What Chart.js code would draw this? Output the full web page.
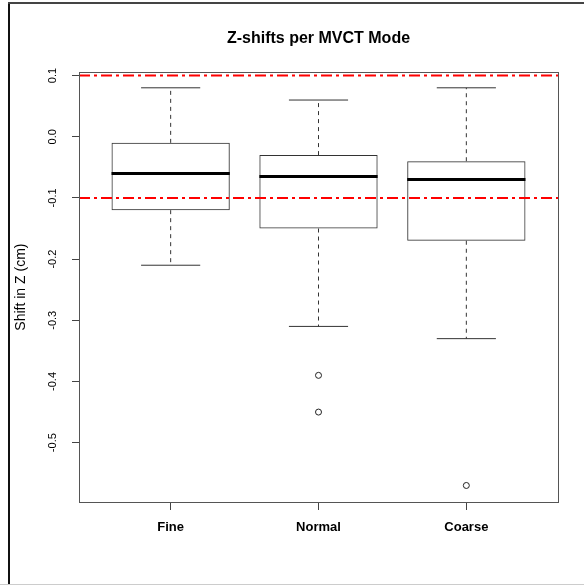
<!DOCTYPE html>
<html>
<head>
<meta charset="utf-8">
<title>Z-shifts per MVCT Mode</title>
<script src="https://cdn.jsdelivr.net/npm/chart.js@4/dist/chart.umd.min.js"></script>
<style>
  html, body { margin: 0; padding: 0; background: #fff; }
  #wrap { width: 584px; height: 585px; }
</style>
</head>
<body>
<div id="wrap"><canvas id="boxChart" width="584" height="585"></canvas></div>
<script>
// five-number summaries per MVCT mode (cm)
const modes = ['Fine', 'Normal', 'Coarse'];
const whiskerLow = [-0.21, -0.31, -0.33];
const quartile1 = [-0.12, -0.15, -0.17];
const medians = [-0.06, -0.065, -0.07];
const quartile3 = [-0.01, -0.03, -0.04];
const whiskerHigh = [0.08, 0.06, 0.08];
const outliers = [[], [-0.39, -0.45], [-0.57]];

// tolerance lines
const limits = [0.1, -0.1];
const yTicks = [0.1, 0.0, -0.1, -0.2, -0.3, -0.4, -0.5];

const X_MIN = 0.38, X_MAX = 3.62;
const Y_MIN = -0.597, Y_MAX = 0.1055;
const HALF_BOX = 0.4, HALF_CAP = 0.2;

const FONT = "'Liberation Sans', Arial, sans-serif";

// line segments separated by null points
function segments(list) {
    const out = [];
    list.forEach((seg, i) => {
        if (i > 0) out.push({x: seg[0].x, y: null});
        out.push(seg[0], seg[1]);
    });
    return out;
}

const medianPts = segments(modes.map((m, i) => [
    {x: i + 1 - HALF_BOX, y: medians[i]}, {x: i + 1 + HALF_BOX, y: medians[i]}
]));

const whiskerPts = segments(modes.flatMap((m, i) => [
    [{x: i + 1, y: quartile3[i]}, {x: i + 1, y: whiskerHigh[i]}],
    [{x: i + 1, y: quartile1[i]}, {x: i + 1, y: whiskerLow[i]}]
]));

const capPts = segments(modes.flatMap((m, i) => [
    [{x: i + 1 - HALF_CAP, y: whiskerHigh[i]}, {x: i + 1 + HALF_CAP, y: whiskerHigh[i]}],
    [{x: i + 1 - HALF_CAP, y: whiskerLow[i]}, {x: i + 1 + HALF_CAP, y: whiskerLow[i]}]
]));

const outlierPts = outliers.flatMap((vals, i) => vals.map(v => ({x: i + 1, y: v})));

const boxPts = modes.map((m, i) => ({x: i + 1, y: [quartile1[i], quartile3[i]]}));

const limitSets = limits.map(v => ({
    type: 'line',
    data: [{x: X_MIN, y: v}, {x: X_MAX, y: v}],
    borderColor: '#ff0000',
    borderWidth: 2,
    borderDash: [11, 4, 3, 4],
    pointRadius: 0
}));

// outer frame and plot box
const framePlugin = {
    id: 'frame',
    beforeDraw(chart) {
        const ctx = chart.ctx;
        ctx.save();
        ctx.fillStyle = '#fff';
        ctx.fillRect(0, 0, chart.width, chart.height);
        ctx.fillStyle = '#111';
        ctx.fillRect(8, 2, 2, chart.height - 2);
        ctx.fillStyle = '#444';
        ctx.fillRect(8, 2, chart.width - 8, 2);
        ctx.fillStyle = '#ccc';
        ctx.fillRect(0, chart.height - 1, chart.width, 1);
        ctx.restore();
    },
    afterDraw(chart) {
        const a = chart.chartArea;
        const ctx = chart.ctx;
        ctx.save();
        ctx.strokeStyle = '#555';
        ctx.lineWidth = 1;
        ctx.strokeRect(Math.round(a.left) + 0.5, Math.round(a.top) + 0.5,
            Math.round(a.right - a.left), Math.round(a.bottom - a.top));
        ctx.restore();
    }
};

const config = {
    type: 'line',
    data: {
        datasets: [
            ...limitSets,
            {
                type: 'line',
                data: medianPts,
                borderColor: '#000',
                borderWidth: 3,
                pointRadius: 0,
                spanGaps: false
            },
            {
                type: 'line',
                data: capPts,
                borderColor: '#333',
                borderWidth: 1,
                pointRadius: 0,
                spanGaps: false
            },
            {
                type: 'line',
                data: whiskerPts,
                borderColor: '#333',
                borderWidth: 1,
                borderDash: [4, 4],
                pointRadius: 0,
                spanGaps: false
            },
            {
                type: 'line',
                data: outlierPts,
                showLine: false,
                pointStyle: 'circle',
                pointRadius: 3,
                pointBorderWidth: 1,
                pointBorderColor: '#222',
                pointBackgroundColor: 'rgba(0,0,0,0)'
            },
            {
                type: 'bar',
                data: boxPts,
                borderColor: '#333',
                borderWidth: 1,
                borderSkipped: false,
                backgroundColor: 'rgba(0,0,0,0)',
                categoryPercentage: 1,
                barPercentage: 0.8
            }
        ]
    },
    options: {
        responsive: false,
        animation: false,
        events: [],
        layout: {padding: {left: 0, right: 26, top: 0, bottom: 0}},
        plugins: {
            legend: {display: false},
            tooltip: {enabled: false},
            title: {
                display: true,
                fullSize: false,
                text: 'Z-shifts per MVCT Mode',
                color: '#000',
                font: {family: FONT, size: 16, weight: 'bold'},
                padding: {top: 29, bottom: 24}
            }
        },
        scales: {
            x: {
                type: 'linear',
                min: X_MIN,
                max: X_MAX,
                offset: false,
                border: {display: false},
                grid: {drawOnChartArea: false, drawTicks: true, tickLength: 8, color: '#444', offset: false},
                afterBuildTicks(scale) {
                    scale.ticks = modes.map((m, i) => ({value: i + 1}));
                },
                afterFit(scale) { scale.height = 83; },
                ticks: {
                    color: '#000',
                    padding: 10,
                    font: {family: FONT, size: 13, weight: 'bold'},
                    callback: v => modes[v - 1]
                }
            },
            y: {
                type: 'linear',
                min: Y_MIN,
                max: Y_MAX,
                border: {display: false},
                grid: {drawOnChartArea: false, drawTicks: true, tickLength: 7, color: '#444'},
                afterBuildTicks(scale) {
                    scale.ticks = yTicks.map(v => ({value: v}));
                },
                afterFit(scale) { scale.width = 79; },
                ticks: {
                    color: '#000',
                    padding: 10,
                    minRotation: 90,
                    maxRotation: 90,
                    crossAlign: 'center',
                    font: {family: FONT, size: 11},
                    callback: v => v.toFixed(1)
                },
                title: {
                    display: true,
                    text: 'Shift in Z (cm)',
                    color: '#000',
                    font: {family: FONT, size: 14},
                    padding: {top: 13, bottom: 0}
                }
            }
        }
    },
    plugins: [framePlugin]
};

new Chart(document.getElementById('boxChart').getContext('2d'), config);
</script>
</body>
</html>
